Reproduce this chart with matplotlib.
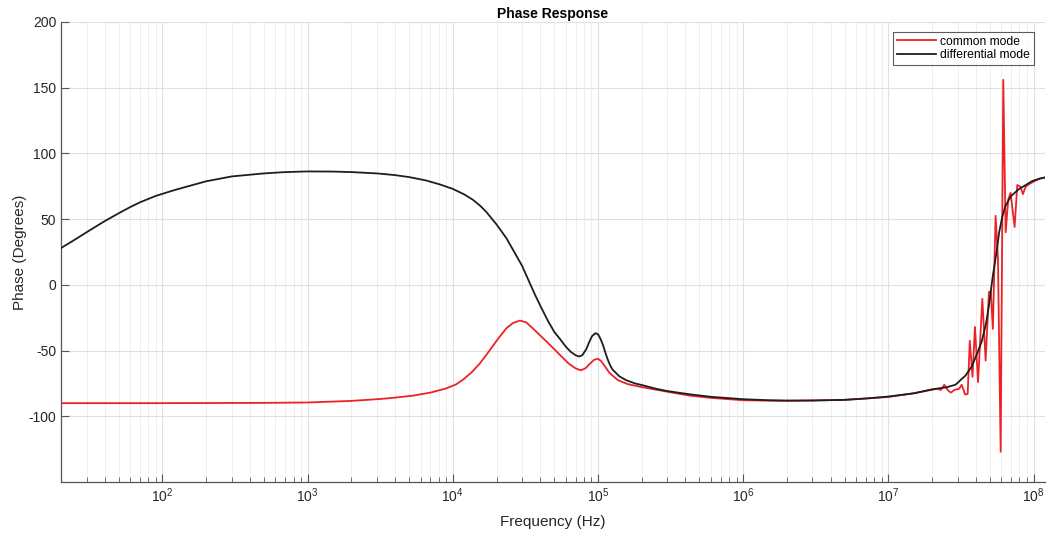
import matplotlib
matplotlib.use("Agg")
import matplotlib.pyplot as plt
from matplotlib.ticker import LogLocator, FixedLocator, NullFormatter, LogFormatterSciNotation

plt.rcParams['font.family'] = ['Liberation Sans', 'DejaVu Sans']
plt.rcParams['mathtext.fontset'] = 'custom'
plt.rcParams['mathtext.rm'] = 'Liberation Sans'
plt.rcParams['mathtext.it'] = 'Liberation Sans:italic'
plt.rcParams['axes.unicode_minus'] = False

# differential mode (black)
dm_freq = [20, 25, 31, 40, 50, 60, 70, 90, 120, 150, 200, 300, 500, 700, 1000, 1500,
           2000, 3000, 4000, 5000, 6500, 8100, 1.0e4, 1.2e4, 1.38e4, 1.55e4, 1.7e4,
           2.0e4, 2.34e4, 2.65e4, 3.0e4, 3.4e4, 3.7e4, 4.0e4, 4.5e4, 5.0e4, 5.5e4,
           6.0e4, 6.5e4, 7.0e4, 7.4e4, 7.8e4, 8.3e4, 8.7e4, 9.1e4, 9.6e4, 1.0e5,
           1.04e5, 1.08e5, 1.12e5, 1.16e5, 1.21e5, 1.26e5, 1.4e5, 1.56e5, 1.8e5,
           2.0e5, 2.5e5, 3.0e5, 4.3e5, 6e5, 1e6, 1.5e6, 2e6, 3e6, 5e6, 7e6, 1e7,
           1.5e7, 2e7, 2.5e7, 2.9e7, 3.4e7, 3.76e7, 4.1e7, 4.4e7, 4.7e7, 4.9e7,
           5.25e7, 5.6e7, 5.8e7, 6.1e7, 6.4e7, 7.0e7, 7.9e7, 9.0e7, 9.8e7, 1.1e8, 1.2e8]
dm_phase = [28, 34.5, 41, 48.5, 54.5, 59.2, 62.8, 67.7, 72, 75, 78.8, 82.5, 84.8, 85.8, 86.3, 86.2,
            85.8, 84.8, 83.5, 82, 79.5, 76.5, 73, 68.8, 64.6, 60, 55.5,
            46, 35.5, 25, 14.5, 1, -8, -15.7, -27, -35.8, -41.5,
            -47, -51, -53.5, -54.5, -53.5, -49, -43.5, -39, -36.8, -37.5,
            -41, -45.5, -51, -56, -61, -64.5, -69.5, -72.5, -75,
            -76.2, -79, -80.8, -83.3, -85.2, -87, -87.8, -88, -88, -87.5, -86.5, -85,
            -82.5, -79.5, -78, -76, -69, -62, -52, -43, -30, -18,
            7, 27, 40, 52, 60, 67.5, 72.7, 76.5, 79, 80.8, 81.7]

# common mode (red)
cm_freq = [20, 100, 500, 1000, 2000, 3200, 4000, 5300, 7000, 9000, 1.05e4, 1.18e4,
           1.35e4, 1.53e4, 1.75e4, 2.05e4, 2.34e4, 2.6e4, 2.9e4, 3.2e4, 3.55e4, 4.0e4,
           4.7e4, 5.5e4, 6.3e4, 7.0e4, 7.6e4, 8.2e4, 8.8e4, 9.4e4, 1.0e5, 1.05e5,
           1.1e5, 1.2e5, 1.37e5, 1.6e5, 2.0e5, 3.0e5, 4.3e5, 6e5, 1e6, 2e6, 5e6,
           1e7, 1.5e7, 2e7, 2.18e7, 2.3e7, 2.43e7, 2.56e7, 2.7e7, 2.85e7, 3.08e7,
           3.2e7, 3.38e7, 3.52e7, 3.64e7, 3.8e7, 3.95e7, 4.15e7, 4.44e7, 4.68e7,
           4.93e7, 5.08e7, 5.25e7, 5.48e7, 5.69e7, 5.94e7, 6.19e7, 6.43e7, 6.7e7,
           6.95e7, 7.41e7, 7.73e7, 8.15e7, 8.45e7, 8.81e7, 9.27e7, 1.0e8, 1.1e8, 1.2e8]
cm_phase = [-90, -90, -89.8, -89.5, -88.3, -86.8, -85.8, -84.3, -82, -78.8, -75.8, -72,
            -66.5, -60, -51.5, -41, -33, -29, -27.2, -28.5, -33, -38.5,
            -46, -53.6, -60, -63.5, -65, -63.5, -60, -57, -56.2, -58,
            -61, -67, -72.5, -75.5, -77.8, -81.3, -84.3, -86, -87.8, -88.3, -87.5,
            -85.3, -82.5, -79.8, -79, -80, -76, -80, -82, -80, -79,
            -76, -83.5, -83, -42.6, -70, -32, -74, -10.6, -57.6,
            -5.5, -5, -33.5, 52.5, 20, -127, 156, 40, 65,
            70, 44, 76, 74.5, 69, 74.5, 76.5, 78.5, 80.8, 81.7]

title = "Phase Response"
xlabel = "Frequency (Hz)"
ylabel = "Phase (Degrees)"
yticks = [-100, -50, 0, 50, 100, 150, 200]
xticks = [1e2, 1e3, 1e4, 1e5, 1e6, 1e7, 1e8]

fig = plt.figure(figsize=(10.52, 5.33), dpi=100)
ax = fig.add_axes([61/1052, 1-482/533, (1045-61)/1052, (482-22)/533])

ax.semilogx(cm_freq, cm_phase, color='#ec2226', lw=1.3, label='common mode', zorder=3)
ax.semilogx(dm_freq, dm_phase, color='#1e1e1e', lw=1.3, label='differential mode', zorder=4)

ax.set_xlim(20, 1.2e8)
ax.set_ylim(-150, 200)
ax.yaxis.set_major_locator(FixedLocator(yticks))
ax.xaxis.set_major_locator(FixedLocator(xticks))
ax.xaxis.set_major_formatter(LogFormatterSciNotation())
ax.xaxis.set_minor_locator(LogLocator(base=10, subs=range(2, 10), numticks=100))
ax.xaxis.set_minor_formatter(NullFormatter())

ax.grid(True, which='major', color='#e0e0e0', lw=0.8)
ax.grid(True, which='minor', axis='x', color='#eeeeee', lw=0.7)
ax.set_axisbelow(True)

for s in ['top', 'right']:
    ax.spines[s].set_visible(False)
for s in ['left', 'bottom']:
    ax.spines[s].set_color('#555555')
    ax.spines[s].set_linewidth(0.9)

ax.tick_params(which='both', direction='in', colors='#555555', labelcolor='#262626',
               labelsize=10, top=False, right=False)
ax.tick_params(which='major', length=6)
ax.tick_params(which='minor', length=3.5)

ax.set_title(title, fontsize=10, fontweight='bold', pad=3)
ax.set_xlabel(xlabel, fontsize=11, color='#262626', labelpad=7)
ax.set_ylabel(ylabel, fontsize=11, color='#262626')
ax.yaxis.set_label_coords((27 - 61) / 984, 0.5)

leg = ax.legend(loc='upper right', fontsize=8.7, frameon=True, fancybox=False,
                edgecolor='#333333', borderpad=0.3, handlelength=3.2,
                handletextpad=0.4, labelspacing=0.15, borderaxespad=0,
                bbox_to_anchor=((1034-61)/984, (482-32)/460))
leg.get_frame().set_linewidth(0.8)

fig.savefig('out.png', dpi=100)
